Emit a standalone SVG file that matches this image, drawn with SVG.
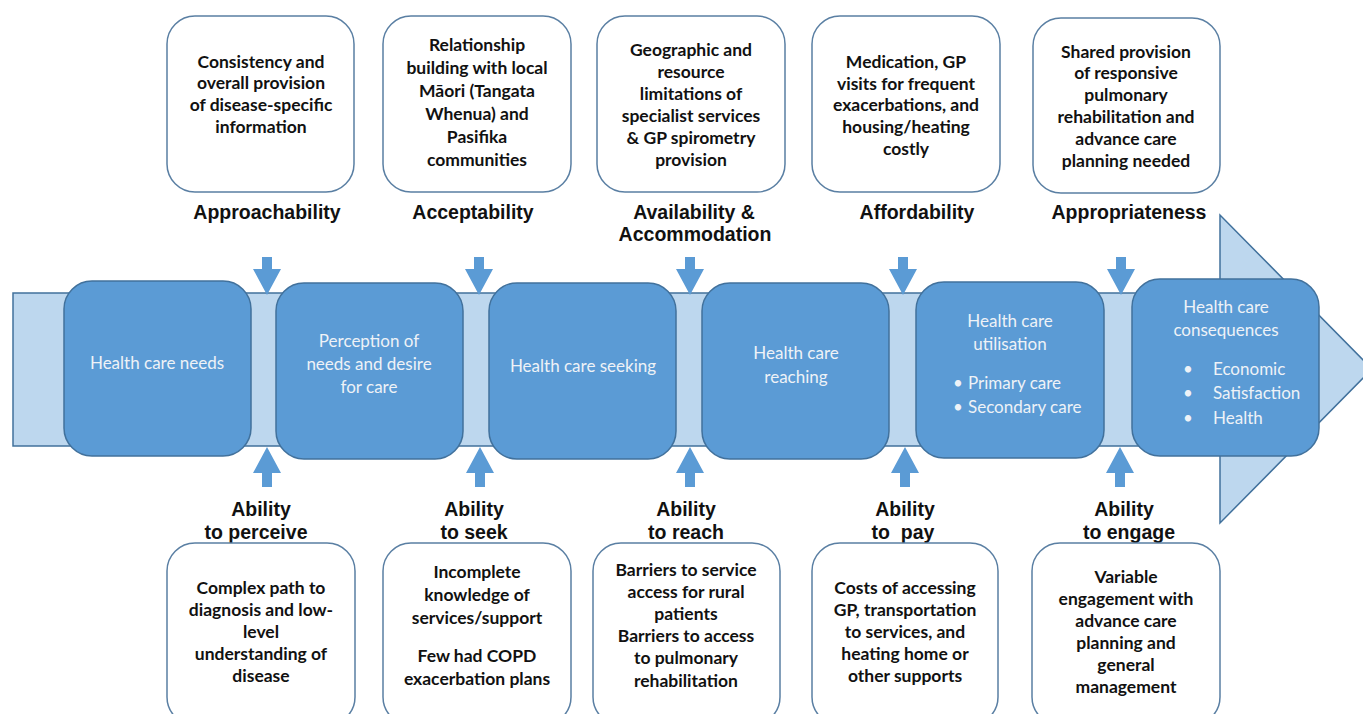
<svg xmlns="http://www.w3.org/2000/svg" width="1363" height="714" viewBox="0 0 1363 714">
<defs>
<style>
.band{fill:#bdd7ee;stroke:#41719c;stroke-width:1.5}
.main rect{fill:#5b9bd5;stroke:#41719c;stroke-width:1.5}
.main text{font-family:Lato,"Liberation Sans",sans-serif;font-size:17px;fill:#eef2f7;text-anchor:middle}
.main text.l{text-anchor:start}
.box rect{fill:#ffffff;stroke:#5a7fa3;stroke-width:1.5}
.box text{font-family:Lato,"Liberation Sans",sans-serif;font-size:17.5px;font-weight:bold;fill:#111;text-anchor:middle}
.lab{font-family:"Liberation Sans",Arial,sans-serif;font-size:19.5px;font-weight:bold;fill:#111;text-anchor:middle}
.arr{fill:#5b9bd5}
</style>
<path id="dn" d="M-5,257 H5 V269 H14 L0,295 L-14,269 H-5 Z"/>
<path id="up" d="M-5,487 H5 V473 H14 L0,447 L-14,473 H-5 Z"/>
</defs>
<rect width="1363" height="714" fill="#ffffff"/>
<g id="band">
<path class="band" d="M13,293 H1220 V215 L1372,369 L1220,523 V446 H13 Z"/>
</g>
<g id="connectors" class="arr">
<use href="#dn" x="267"/><use href="#dn" x="479"/><use href="#dn" x="690"/><use href="#dn" x="903"/><use href="#dn" x="1121"/>
<use href="#up" x="267"/><use href="#up" x="480"/><use href="#up" x="690"/><use href="#up" x="905"/><use href="#up" x="1120"/>
</g>
<g id="n-needs" class="main"><rect x="64" y="281" width="187" height="175" rx="28"/>
<text x="157" y="369">Health care needs</text></g>
<g id="n-perception" class="main"><rect x="276" y="283" width="187" height="176" rx="28"/>
<text x="369" y="347">Perception of</text><text x="369" y="370">needs and desire</text><text x="369" y="393">for care</text></g>
<g id="n-seeking" class="main"><rect x="489" y="283" width="187" height="176" rx="28"/>
<text x="583" y="372">Health care seeking</text></g>
<g id="n-reaching" class="main"><rect x="702" y="283" width="187" height="176" rx="28"/>
<text x="796" y="359">Health care</text><text x="796" y="383">reaching</text></g>
<g id="n-utilisation" class="main"><rect x="916" y="282" width="188" height="176" rx="28"/>
<text x="1010" y="327">Health care</text><text x="1010" y="350">utilisation</text>
<text class="l" x="953" y="389">•</text><text class="l" x="968" y="389">Primary care</text>
<text class="l" x="953" y="413">•</text><text class="l" x="968" y="413">Secondary care</text></g>
<g id="n-consequences" class="main"><rect x="1132" y="279" width="187" height="177" rx="28"/>
<text x="1226" y="313">Health care</text><text x="1226" y="336">consequences</text>
<text class="l" x="1183" y="375">•</text><text class="l" x="1213" y="375">Economic</text>
<text class="l" x="1183" y="399">•</text><text class="l" x="1213" y="399">Satisfaction</text>
<text class="l" x="1183" y="424">•</text><text class="l" x="1213" y="424">Health</text></g>

<g id="t-approachability" class="box"><rect x="167" y="16" width="187" height="176" rx="28"/>
<text x="261" y="68">Consistency and</text><text x="261" y="89">overall provision</text><text x="261" y="111">of disease-specific</text><text x="261" y="133">information</text></g>
<g id="t-acceptability" class="box"><rect x="383" y="16" width="188" height="176" rx="28"/>
<text x="477" y="51">Relationship</text><text x="477" y="74">building with local</text><text x="477" y="97">Māori (Tangata</text><text x="477" y="120">Whenua) and</text><text x="477" y="143">Pasifika</text><text x="477" y="166">communities</text></g>
<g id="t-availability" class="box"><rect x="597" y="16" width="188" height="176" rx="28"/>
<text x="691" y="56">Geographic and</text><text x="691" y="78">resource</text><text x="691" y="100">limitations of</text><text x="691" y="122">specialist services</text><text x="691" y="144">&amp; GP spirometry</text><text x="691" y="166">provision</text></g>
<g id="t-affordability" class="box"><rect x="812" y="16" width="188" height="176" rx="28"/>
<text x="906" y="68">Medication, GP</text><text x="906" y="90">visits for frequent</text><text x="906" y="111">exacerbations, and</text><text x="906" y="133">housing/heating</text><text x="906" y="155">costly</text></g>
<g id="t-appropriateness" class="box"><rect x="1033" y="18" width="187" height="175" rx="28"/>
<text x="1126" y="58">Shared provision</text><text x="1126" y="79">of responsive</text><text x="1126" y="101">pulmonary</text><text x="1126" y="123">rehabilitation and</text><text x="1126" y="145">advance care</text><text x="1126" y="167">planning needed</text></g>

<g id="labels-top">
<text class="lab" x="267" y="219">Approachability</text>
<text class="lab" x="473" y="219">Acceptability</text>
<text class="lab" x="694" y="219">Availability &amp;</text>
<text class="lab" x="695" y="241">Accommodation</text>
<text class="lab" x="917" y="219">Affordability</text>
<text class="lab" x="1129" y="219">Appropriateness</text>
</g>
<g id="labels-bottom">
<text class="lab" x="261" y="516">Ability</text><text class="lab" x="256" y="539">to perceive</text>
<text class="lab" x="474" y="516">Ability</text><text class="lab" x="474" y="539">to seek</text>
<text class="lab" x="686" y="516">Ability</text><text class="lab" x="686" y="539">to reach</text>
<text class="lab" x="905" y="516">Ability</text><text class="lab" x="903" y="539" xml:space="preserve">to  pay</text>
<text class="lab" x="1124" y="516">Ability</text><text class="lab" x="1129" y="539">to engage</text>
</g>

<g id="b-perceive" class="box"><rect x="167" y="543" width="188" height="182" rx="28"/>
<text x="261" y="594">Complex path to</text><text x="261" y="616">diagnosis and low-</text><text x="261" y="638">level</text><text x="261" y="660">understanding of</text><text x="261" y="682">disease</text></g>
<g id="b-seek" class="box"><rect x="383" y="543" width="188" height="182" rx="28"/>
<text x="477" y="578">Incomplete</text><text x="477" y="601">knowledge of</text><text x="477" y="624">services/support</text><text x="477" y="662">Few had COPD</text><text x="477" y="685">exacerbation plans</text></g>
<g id="b-reach" class="box"><rect x="593" y="543" width="187" height="182" rx="28"/>
<text x="686" y="576">Barriers to service</text><text x="686" y="598">access for rural</text><text x="686" y="620">patients</text><text x="686" y="642">Barriers to access</text><text x="686" y="664">to pulmonary</text><text x="686" y="687">rehabilitation</text></g>
<g id="b-pay" class="box"><rect x="812" y="543" width="186" height="182" rx="28"/>
<text x="905" y="594">Costs of accessing</text><text x="905" y="616">GP, transportation</text><text x="905" y="638">to services, and</text><text x="905" y="660">heating home or</text><text x="905" y="682">other supports</text></g>
<g id="b-engage" class="box"><rect x="1032" y="543" width="188" height="182" rx="28"/>
<text x="1126" y="583">Variable</text><text x="1126" y="605">engagement with</text><text x="1126" y="627">advance care</text><text x="1126" y="649">planning and</text><text x="1126" y="671">general</text><text x="1126" y="693">management</text></g>
</svg>
